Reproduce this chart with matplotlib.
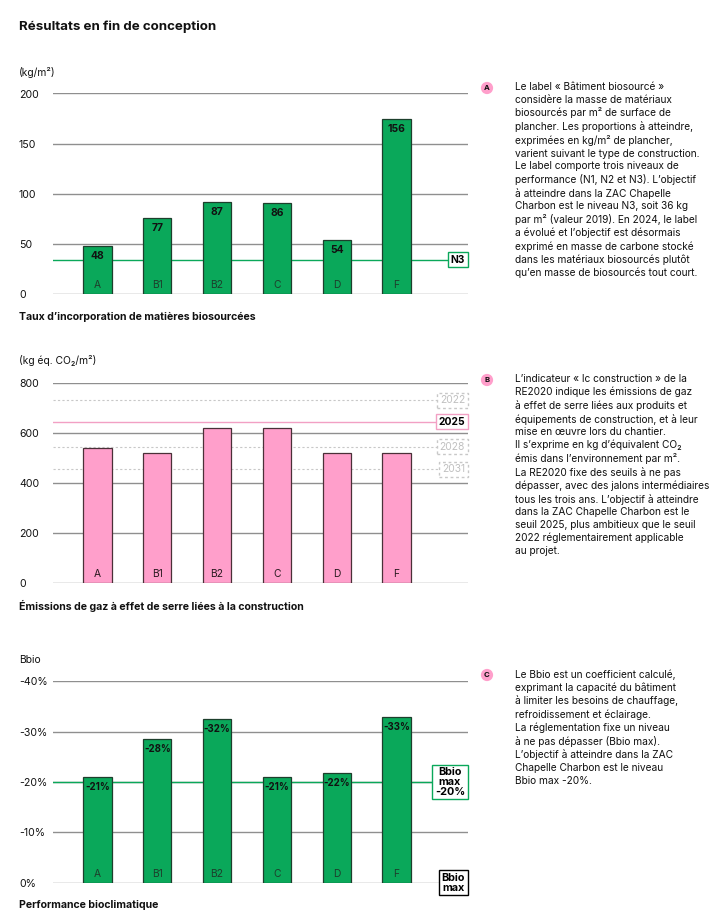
import matplotlib
matplotlib.use('Agg')
import matplotlib.pyplot as plt
from matplotlib.transforms import blended_transform_factory

plt.rcParams['font.family'] = ['Inter', 'DejaVu Sans']

W, H = 713, 921

# data
buildings = ['A', 'B1', 'B2', 'C', 'D', 'F']

bio_heights = [48, 76, 92, 91, 54, 175]
bio_labels = ['48', '77', '87', '86', '54', '156']
bio_ticks = [0, 50, 100, 150, 200]
bio_n3 = 34

ic_values = [540, 520, 620, 620, 520, 520]
ic_ticks = [0, 200, 400, 600, 800]
ic_years = ['2022', '2025', '2028', '2031']
ic_thresholds = [730, 645, 545, 455]

bbio_heights = [21, 28.5, 32.5, 21, 21.8, 33]
bbio_labels = ['-21%', '-28%', '-32%', '-21%', '-22%', '-33%']
bbio_ticks = [0, 10, 20, 30, 40]
bbio_target = 20

GREEN = '#0aa85a'
GREEN_EDGE = '#1d3f2c'
PINK = '#ff9fcb'
PINK_EDGE = '#4a3038'
PINK_LINE = '#f2a0c4'
GRID = '#8f8f8f'
TXT = '#111111'

fig = plt.figure(figsize=(W / 100, H / 100), dpi=100)
fig.patch.set_facecolor('white')


def px_axes(x0, y_top, x1, y_bot):
    return fig.add_axes([x0 / W, 1 - y_bot / H, (x1 - x0) / W, (y_bot - y_top) / H])


def base_axes(ax, ticks, ticklabels):
    ax.set_xlim(-0.744, 6.196)
    ax.set_ylim(ticks[0], ticks[-1])
    for s in ax.spines.values():
        s.set_visible(False)
    ax.set_xticks([])
    ax.set_yticks(ticks)
    ax.set_yticklabels(ticklabels, fontsize=7.6, color=TXT)
    ax.tick_params(axis='y', length=0, pad=24.5)
    for lab in ax.get_yticklabels():
        lab.set_horizontalalignment('left')
    for t in ticks:
        ax.axhline(t, color=GRID, lw=1.0, zorder=1)


def box_label(ax, y, text, edge, color='black', ls='-', bold=True, size=7.4):
    tr = blended_transform_factory(ax.transAxes, ax.transData)
    ax.text(0.993, y, text, transform=tr, ha='right', va='center', multialignment='center',
            fontsize=size, fontweight='bold' if bold else 'normal', color=color,
            linespacing=0.95, zorder=5, clip_on=False,
            bbox=dict(boxstyle='square,pad=0.25', fc='white', ec=edge, lw=1.0, ls=ls))


# title
fig.text(19 / W, 1 - 27 / H, 'Résultats en fin de conception', fontsize=9.6,
         fontweight='bold', color=TXT, va='center')

# chart 1: biosourced
ax1 = px_axes(53, 93.5, 468, 294)
base_axes(ax1, bio_ticks, [str(t) for t in bio_ticks])
x = range(len(buildings))
ax1.axhline(bio_n3, color=GREEN, lw=1.0, zorder=1)
ax1.bar(x, bio_heights, width=0.47, color=GREEN, edgecolor=GREEN_EDGE, lw=0.9, zorder=3)
for i, (h, lab) in enumerate(zip(bio_heights, bio_labels)):
    ax1.text(i, h - 5, lab, ha='center', va='top', fontsize=7.4, fontweight='bold', color=TXT, zorder=4)
    ax1.text(i, 9, buildings[i], ha='center', va='center', fontsize=7.4, color=GREEN_EDGE, zorder=4)
box_label(ax1, bio_n3, 'N3', GREEN)
fig.text(19 / W, 1 - 72 / H, '(kg/m²)', fontsize=7.4, color=TXT, va='center')
fig.text(19 / W, 1 - 317 / H, "Taux d’incorporation de matières biosourcées", fontsize=7.6,
         fontweight='bold', color=TXT, va='center')

# chart 2: Ic construction
ax2 = px_axes(53, 382.7, 468, 583.3)
base_axes(ax2, ic_ticks, [str(t) for t in ic_ticks])
for yr, v in zip(ic_years, ic_thresholds):
    if yr == '2025':
        ax2.axhline(v, color=PINK_LINE, lw=1.0, zorder=1)
        box_label(ax2, v, yr, PINK_LINE)
    else:
        ax2.axhline(v, color='#c8c8c8', lw=0.8, ls=(0, (2, 2)), zorder=1)
        box_label(ax2, v, yr, '#c8c8c8', color='#c0c0c0', ls=(0, (2, 2)), bold=False)
ax2.bar(x, ic_values, width=0.47, color=PINK, edgecolor=PINK_EDGE, lw=0.9, zorder=3)
for i in x:
    ax2.text(i, 36, buildings[i], ha='center', va='center', fontsize=7.4, color='#2a1a20', zorder=4)
fig.text(19 / W, 1 - 361 / H, '(kg éq. CO₂/m²)', fontsize=7.4, color=TXT, va='center')
fig.text(19 / W, 1 - 606 / H, 'Émissions de gaz à effet de serre liées à la construction',
         fontsize=7.6, fontweight='bold', color=TXT, va='center')

# chart 3: Bbio
ax3 = px_axes(53, 681.3, 468, 882.7)
base_axes(ax3, bbio_ticks, ['0%' if t == 0 else '-%d%%' % t for t in bbio_ticks])
ax3.axhline(bbio_target, color=GREEN, lw=1.0, zorder=1)
ax3.bar(x, bbio_heights, width=0.47, color=GREEN, edgecolor=GREEN_EDGE, lw=0.9, zorder=3)
for i, (h, lab) in enumerate(zip(bbio_heights, bbio_labels)):
    ax3.text(i, h - 1.0, lab, ha='center', va='top', fontsize=7.0, fontweight='bold', color=TXT, zorder=4)
    ax3.text(i, 1.8, buildings[i], ha='center', va='center', fontsize=7.4, color=GREEN_EDGE, zorder=4)
box_label(ax3, bbio_target, 'Bbio\nmax\n-20%', GREEN, size=7.8)
box_label(ax3, 0, 'Bbio\nmax', 'black', size=7.8)
fig.text(19 / W, 1 - 660 / H, 'Bbio', fontsize=7.4, color=TXT, va='center')
fig.text(19 / W, 1 - 905 / H, 'Performance bioclimatique', fontsize=7.6,
         fontweight='bold', color=TXT, va='center')

# side notes
notes = [
    ('A', 88, "Le label « Bâtiment biosourcé »\nconsidère la masse de matériaux\nbiosourcés par m² de surface de\n"
              "plancher. Les proportions à atteindre,\nexprimées en kg/m² de plancher,\n"
              "varient suivant le type de construction.\nLe label comporte trois niveaux de\n"
              "performance (N1, N2 et N3). L’objectif\nà atteindre dans la ZAC Chapelle\n"
              "Charbon est le niveau N3, soit 36 kg\npar m² (valeur 2019). En 2024, le label\n"
              "a évolué et l’objectif est désormais\nexprimé en masse de carbone stocké\n"
              "dans les matériaux biosourcés plutôt\nqu’en masse de biosourcés tout court."),
    ('B', 380, "L’indicateur « Ic construction » de la\nRE2020 indique les émissions de gaz\n"
               "à effet de serre liées aux produits et\néquipements de construction, et à leur\n"
               "mise en œuvre lors du chantier.\nIl s’exprime en kg d’équivalent CO₂\n"
               "émis dans l’environnement par m².\nLa RE2020 fixe des seuils à ne pas\n"
               "dépasser, avec des jalons intermédiaires\ntous les trois ans. L’objectif à atteindre\n"
               "dans la ZAC Chapelle Charbon est le\nseuil 2025, plus ambitieux que le seuil\n"
               "2022 réglementairement applicable\nau projet."),
    ('C', 675, "Le Bbio est un coefficient calculé,\nexprimant la capacité du bâtiment\n"
               "à limiter les besoins de chauffage,\nrefroidissement et éclairage.\n"
               "La réglementation fixe un niveau\nà ne pas dépasser (Bbio max).\n"
               "L’objectif à atteindre dans la ZAC\nChapelle Charbon est le niveau\nBbio max -20%."),
]
for letter, ytop, body in notes:
    fig.text(487 / W, 1 - ytop / H, letter, fontsize=5.6, fontweight='bold', color=TXT,
             ha='center', va='center',
             bbox=dict(boxstyle='circle,pad=0.4', fc=PINK, ec='none'))
    fig.text(515 / W, 1 - (ytop - 6) / H, body, fontsize=7.3, color=TXT, ha='left', va='top',
             linespacing=1.32)

fig.savefig('out.png', dpi=100, facecolor='white')
